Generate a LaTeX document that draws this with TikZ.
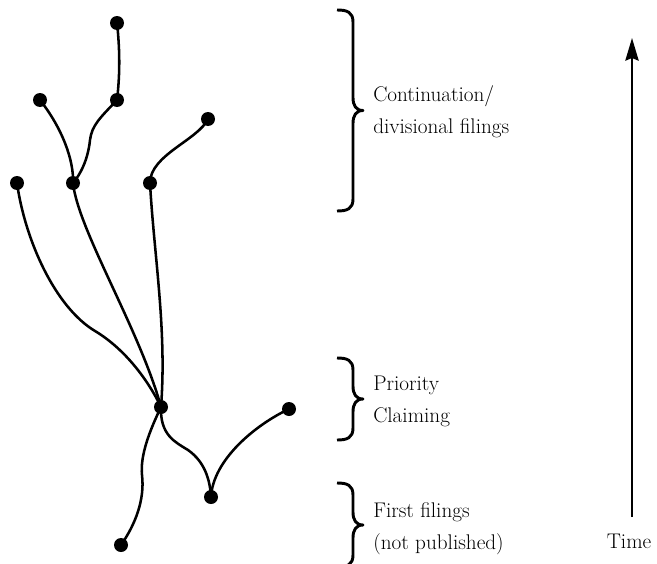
\documentclass[tikz,border=0pt]{standalone}
\usepackage{xcolor}
\definecolor{famink}{HTML}{000000}
\usepackage{tikz}
\usetikzlibrary{arrows.meta,positioning}
\tikzset{
  famdot/.style   ={circle, fill=famink, draw=none, inner sep=0pt, minimum size=10.5pt},
  fambranch/.style={draw=famink, line width=1.9pt, line cap=round},
  fambrace/.style ={draw=famink, line width=2.2pt, line join=round},
  famlbl/.style   ={font=\fontsize{15.9}{24}\selectfont, text=famink, align=left,
                    inner sep=0pt, anchor=west},
  famtime/.style  ={-{Stealth[length=17pt,width=10pt,inset=2pt]}, line width=1.5pt, draw=famink},
}
\newcommand{\famcurly}[2]{%
  \pgfmathsetmacro{\fammid}{(#1+#2)/2}%
  \draw[fambrace] (337,#1) .. controls (347,#1) and (353,{#1+2}) .. (353,{#1+12})
    -- (353,{\fammid-13}) .. controls (353,{\fammid-5}) and (356,\fammid) .. (363,\fammid)
    .. controls (356,\fammid) and (353,{\fammid+5}) .. (353,{\fammid+13})
    -- (353,{#2-12}) .. controls (353,{#2-2}) and (347,#2) .. (337,#2);}

\begin{document}
\begin{tikzpicture}[x=0.75pt, y=-0.75pt]
  \useasboundingbox (0,0) rectangle (657,564);
  \node[famdot] (a) at (117,23) {};
  \node[famdot] (b) at (117,100) {};
  \node[famdot] (c) at (40,100) {};
  \node[famdot] (d) at (208,119) {};
  \node[famdot] (e) at (17,183) {};
  \node[famdot] (f) at (73,183) {};
  \node[famdot] (g) at (150,183) {};
  \node[famdot] (h) at (161,407) {};
  \node[famdot] (i) at (289,409) {};
  \node[famdot] (j) at (211,497) {};
  \node[famdot] (k) at (121,545) {};
  \draw[fambranch] (a.center) .. controls (120,50) and (120,75) .. (b.center);
  \draw[fambranch] (b.center) .. controls (100,118) and (92,125) .. (90,140)
                              .. controls (88,160) and (80,175) .. (f.center);
  \draw[fambranch] (c.center) .. controls (62,128) and (74,160) .. (f.center);
  \draw[fambranch] (d.center) .. controls (198,140) and (150,155) .. (g.center);
  \draw[fambranch] (e.center) .. controls (25,240) and (55,307) .. (95,331)
                              .. controls (125,349) and (148,380) .. (h.center);
  \draw[fambranch] (f.center) .. controls (78,230) and (140,330) .. (h.center);
  \draw[fambranch] (g.center) .. controls (154,255) and (167,330) .. (h.center);
  \draw[fambranch] (h.center) .. controls (150,430) and (140,455) .. (142,475)
                              .. controls (145,500) and (135,525) .. (k.center);
  \draw[fambranch] (h.center) .. controls (160,435) and (175,442) .. (188,450)
                              .. controls (205,462) and (210,480) .. (j.center);
  \draw[fambranch] (j.center) .. controls (213,460) and (255,425) .. (i.center);
  \famcurly{10}{211}
  \famcurly{358}{440}
  \famcurly{483}{567}
  \node[famlbl] (cont) at (373,112) {Continuation/\\divisional filings};
  \node[famlbl] (prio) at (373,401) {Priority\\Claiming};
  \node[famlbl] (first) at (373,529) {First filings\\(not published)};
  \coordinate (tbase) at (632,517);
  \coordinate (ttip) at (632,38);
  \draw[famtime] (tbase) -- (ttip);
  \node[font=\fontsize{15.9}{24}\selectfont, text=famink, anchor=base, inner sep=0pt]
       (time) at (629,548) {Time};
\end{tikzpicture}
\end{document}
